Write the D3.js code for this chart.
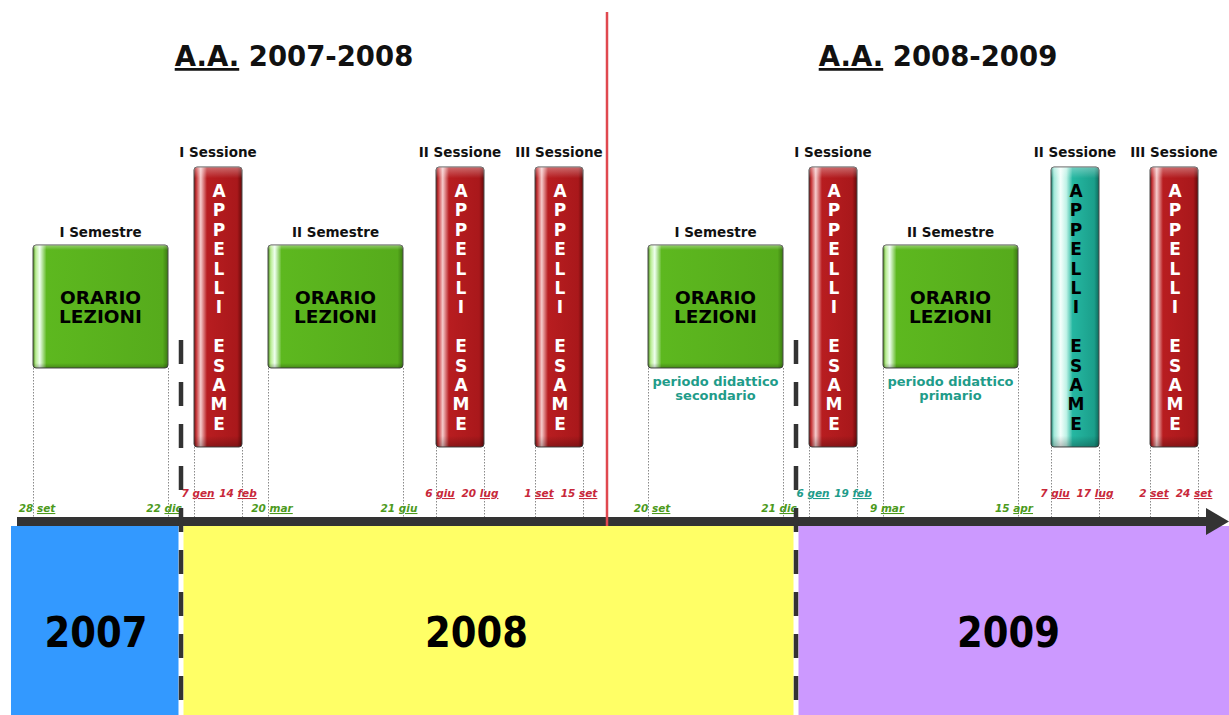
<!DOCTYPE html>
<html><head><meta charset="utf-8">
<script src="https://cdn.jsdelivr.net/npm/d3@7"></script>
<style>html,body{margin:0;padding:0;background:#fff;} svg{display:block;}</style>
</head><body>
<svg id="c" width="1229" height="715"></svg>
<script>
// ---------------- DATA ----------------
const academicYears = ["2007-2008", "2008-2009"];
const titlePrefix = "A.A.";
const periodLabels = ["I Semestre", "I Sessione", "II Semestre", "II Sessione", "III Sessione"];
const periodTypes = ["lezioni", "esami", "lezioni", "esami", "esami"];
const startDates = [
  ["28 set", "7 gen", "20 mar", "6 giu", "1 set"],
  ["20 set", "6 gen", "9 mar", "7 giu", "2 set"]
];
const endDates = [
  ["22 dic", "14 feb", "21 giu", "20 lug", "15 set"],
  ["21 dic", "19 feb", "15 apr", "17 lug", "24 set"]
];
const periodNotes = [
  [null, null, null, null, null],
  [["periodo didattico", "secondario"], null, ["periodo didattico", "primario"], null, null]
];
const lezioniText = ["ORARIO", "LEZIONI"];
const esamiText = "APPELLI ESAME";
const calendarYears = ["2007", "2008", "2009"];

// ---------------- LAYOUT / STYLE ----------------
const W = 1229, H = 715;
const FONT = "'DejaVu Sans', Verdana, sans-serif";
const svg = d3.select("#c");
const defs = svg.append("defs");

const yearX = d3.scalePoint().domain(academicYears).range([0, 615]);
const slotX = d3.scaleOrdinal().domain(periodLabels).range([33, 194, 268, 436, 535]);
const typeW = {lezioni: 135, esami: 48};
const typeTop = {lezioni: 245, esami: 167};
const typeBottom = {lezioni: 368, esami: 447};
const axisTop = 517, axisH = 9, bandTop = 526;
const titleX = d3.scaleOrdinal().domain(academicYears).range([294, 938]);
const bandLabelShift = [0, -12, -4];

const C = {
  green: "#58ae1d", red: "#b01a1d", teal: "#1fa892",
  dateGreen: "#4c9a1c", dateRed: "#c8283a", dateTeal: "#1f9c8a", note: "#1f9c8a",
  bands: ["#3399ff", "#ffff66", "#cc99ff"], axis: "#333333", divider: "#e0484f"
};

function grad(id, stops) {
  const g = defs.append("linearGradient").attr("id", id).attr("x1", 0).attr("x2", 1).attr("y1", 0).attr("y2", 0);
  stops.forEach(s => g.append("stop").attr("offset", s[0]).attr("stop-color", s[1]));
}
grad("gGreen", [[0, "#3d7d12"], [0.02, "#b8ec90"], [0.05, "#effff0"], [0.1, "#5db81f"], [0.96, "#56ab1c"], [1, "#3b7a11"]]);
grad("gRed", [[0, "#6e0a0b"], [0.05, "#c83a3c"], [0.14, "#f6cccc"], [0.27, "#b81d20"], [0.9, "#a9181b"], [1, "#680909"]]);
grad("gTeal", [[0, "#0f7464"], [0.06, "#9fe8d8"], [0.2, "#f4fffc"], [0.32, "#bff2e6"], [0.45, "#25b7a1"], [0.9, "#1b9f8b"], [1, "#0e6c5d"]]);
const vg = defs.append("linearGradient").attr("id", "gGloss").attr("x1", 0).attr("x2", 0).attr("y1", 0).attr("y2", 1);
[[0, "#ffffff", 0.35], [0.04, "#ffffff", 0], [0.96, "#000000", 0], [1, "#000000", 0.25]].forEach(s =>
  vg.append("stop").attr("offset", s[0]).attr("stop-color", s[1]).attr("stop-opacity", s[2]));

// ---------------- PERIOD RECORDS ----------------
const periods = [];
academicYears.forEach((ay, ai) => {
  periodLabels.forEach((lab, pi) => {
    const type = periodTypes[pi];
    const x0 = yearX(ay) + slotX(lab);
    periods.push({
      ay, ai, pi, lab, type, x0, x1: x0 + typeW[type],
      start: startDates[ai][pi], end: endDates[ai][pi], note: periodNotes[ai][pi],
      style: (type === "esami") ? ((ai === 1 && pi === 3) ? "teal" : "red") : "green",
      dateColor: type === "lezioni" ? C.dateGreen : ((ai === 1 && pi === 1) ? C.dateTeal : C.dateRed)
    });
  });
});

const yearDividers = academicYears.map((ay, ai) => {
  const a = periods.find(p => p.ai === ai && p.pi === 0), b = periods.find(p => p.ai === ai && p.pi === 1);
  return (a.x1 + b.x0) / 2;
});
const bandEdges = [11, ...yearDividers, W];

// ---------------- BANDS ----------------
const bandG = svg.append("g");
calendarYears.forEach((y, i) => {
  bandG.append("rect").attr("x", bandEdges[i]).attr("y", bandTop)
    .attr("width", bandEdges[i + 1] - bandEdges[i]).attr("height", H - bandTop).attr("fill", C.bands[i]);
  const cx = (bandEdges[i] + bandEdges[i + 1]) / 2 + bandLabelShift[i];
  bandG.append("text").attr("transform", `translate(${cx},647) scale(0.88,1)`)
    .attr("text-anchor", "middle").style("font", `bold 42px ${FONT}`).attr("fill", "#000").text(y);
});
yearDividers.forEach(x => {
  bandG.append("line").attr("x1", x).attr("x2", x).attr("y1", bandTop).attr("y2", H)
    .attr("stroke", "#fff").attr("stroke-width", 5);
});

// ---------------- DOTTED GUIDES ----------------
const guideG = svg.append("g");
periods.forEach(p => {
  [p.x0, p.x1].forEach(x => {
    guideG.append("line").attr("x1", x + 0.5).attr("x2", x + 0.5).attr("y1", typeBottom[p.type]).attr("y2", axisTop + 2)
      .attr("stroke", "#8a8a8a").attr("stroke-width", 1).attr("stroke-dasharray", "1.5,1.5");
  });
});

// ---------------- BOXES ----------------
const boxG = svg.append("g");
periods.forEach(p => {
  const w = typeW[p.type], top = typeTop[p.type], h = typeBottom[p.type] - top;
  const fill = p.style === "green" ? "url(#gGreen)" : p.style === "teal" ? "url(#gTeal)" : "url(#gRed)";
  boxG.append("rect").attr("x", p.x0).attr("y", top).attr("width", w).attr("height", h)
    .attr("rx", 3).attr("fill", fill).attr("stroke", "#4a4a4a").attr("stroke-width", 1);
  boxG.append("rect").attr("x", p.x0).attr("y", top).attr("width", w).attr("height", h)
    .attr("rx", 3).attr("fill", "url(#gGloss)");
  const cx = p.x0 + w / 2;
  boxG.append("text").attr("x", cx).attr("y", p.type === "lezioni" ? 237 : 157)
    .attr("text-anchor", "middle").style("font", `bold 13.5px ${FONT}`).attr("fill", "#111").text(p.lab);
  if (p.type === "lezioni") {
    lezioniText.forEach((t, i) => {
      boxG.append("text").attr("x", cx).attr("y", 304 + i * 19).attr("text-anchor", "middle")
        .style("font", `bold 18.5px ${FONT}`).attr("fill", "#000").text(t);
    });
  } else {
    esamiText.split("").forEach((ch, i) => {
      if (ch === " ") return;
      boxG.append("text").attr("x", cx + 1).attr("y", top + 30 + i * 19.4).attr("text-anchor", "middle")
        .style("font", `bold 17px ${FONT}`).attr("fill", p.style === "teal" ? "#000" : "#fff").text(ch);
    });
  }
  if (p.note) {
    p.note.forEach((t, i) => {
      boxG.append("text").attr("x", cx).attr("y", 386 + i * 14).attr("text-anchor", "middle")
        .style("font", `bold 13px ${FONT}`).attr("fill", C.note).text(t);
    });
  }
});

// ---------------- DATE LABELS ----------------
const dateG = svg.append("g");
function dateLabel(x, y, str, color) {
  const parts = str.split(" ");
  const t = dateG.append("text").attr("x", x).attr("y", y).attr("text-anchor", "middle")
    .style("font", `italic bold 10.5px ${FONT}`).attr("fill", color);
  t.append("tspan").text(parts[0] + " ");
  t.append("tspan").attr("text-decoration", "underline").text(parts[1]);
}
periods.forEach(p => {
  const y = p.type === "lezioni" ? 512 : 497;
  dateLabel(p.x0 + 4, y, p.start, p.dateColor);
  dateLabel(p.x1 - 4, y, p.end, p.dateColor);
});

// ---------------- AXIS ----------------
const axG = svg.append("g");
axG.append("rect").attr("x", 17).attr("y", axisTop).attr("width", 1192).attr("height", axisH).attr("fill", C.axis);
axG.append("path").attr("d", d3.line()([[1206, axisTop - 9], [W, axisTop + axisH / 2], [1206, axisTop + axisH + 9]]) + "Z")
  .attr("fill", C.axis);

yearDividers.forEach(x => {
  axG.append("line").attr("x1", x).attr("x2", x).attr("y1", 340).attr("y2", H)
    .attr("stroke", "#333").attr("stroke-width", 4.5).attr("stroke-dasharray", "24,18");
});

const ayDivX = yearX(academicYears[1]) - 8;
axG.append("line").attr("x1", ayDivX).attr("x2", ayDivX).attr("y1", 12).attr("y2", bandTop)
  .attr("stroke", C.divider).attr("stroke-width", 2.5);

// ---------------- TITLES ----------------
academicYears.forEach(ay => {
  const t = svg.append("text").attr("x", titleX(ay)).attr("y", 66).attr("text-anchor", "middle")
    .style("font", `bold 27.5px ${FONT}`).attr("fill", "#111");
  t.append("tspan").attr("text-decoration", "underline").text(titlePrefix);
  t.append("tspan").text(" " + ay);
});
</script>
</body></html>
